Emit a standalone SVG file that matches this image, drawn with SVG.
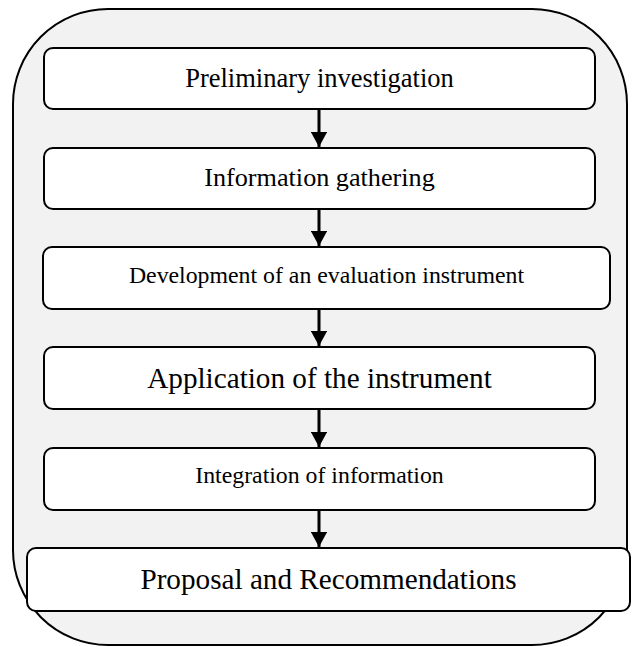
<svg xmlns="http://www.w3.org/2000/svg" width="632" height="647" viewBox="0 0 632 647">
<style>
.outer{fill:#f2f2f2;stroke:#000;stroke-width:2}
.box{fill:#fff;stroke:#000;stroke-width:2}
.t{font-family:"Liberation Serif","Times New Roman",serif;fill:#000;text-anchor:middle}
.conn{stroke:#000;stroke-width:3;fill:none}
</style>
<defs>
<marker id="ah" markerWidth="5" markerHeight="5.4" refX="5" refY="2.7" orient="auto" markerUnits="strokeWidth" viewBox="0 0 5 5.4">
<path d="M0,0 L5,2.7 L0,5.4 Z" fill="#000"/>
</marker>
</defs>
<rect id="container" class="outer" x="13" y="9" width="614" height="636" rx="95" ry="95"/>
<g id="connectors">
<line class="conn" x1="319" y1="109" x2="319" y2="147" marker-end="url(#ah)"/>
<line class="conn" x1="319" y1="209" x2="319" y2="246" marker-end="url(#ah)"/>
<line class="conn" x1="319" y1="309" x2="319" y2="346" marker-end="url(#ah)"/>
<line class="conn" x1="319" y1="409" x2="319" y2="447" marker-end="url(#ah)"/>
<line class="conn" x1="319" y1="510" x2="319" y2="547" marker-end="url(#ah)"/>
</g>
<g id="n1">
<rect class="box" x="44" y="48" width="551" height="61" rx="9"/>
<text class="t" x="319.5" y="87" font-size="26.5">Preliminary investigation</text>
</g>
<g id="n2">
<rect class="box" x="44" y="148" width="551" height="61" rx="9"/>
<text class="t" x="319.5" y="186" font-size="26.2">Information gathering</text>
</g>
<g id="n3">
<rect class="box" x="43" y="247" width="567" height="62" rx="9"/>
<text class="t" x="326.5" y="283" font-size="23.8">Development of an evaluation instrument</text>
</g>
<g id="n4">
<rect class="box" x="44" y="347" width="551" height="62" rx="9"/>
<text class="t" x="319.5" y="388" font-size="29.2">Application of the instrument</text>
</g>
<g id="n5">
<rect class="box" x="44" y="448" width="551" height="62" rx="9"/>
<text class="t" x="319.5" y="483" font-size="23.8">Integration of information</text>
</g>
<g id="n6">
<rect class="box" x="27" y="548" width="603" height="63" rx="9"/>
<text class="t" x="328.5" y="589" font-size="29.2">Proposal and Recommendations</text>
</g>
</svg>
